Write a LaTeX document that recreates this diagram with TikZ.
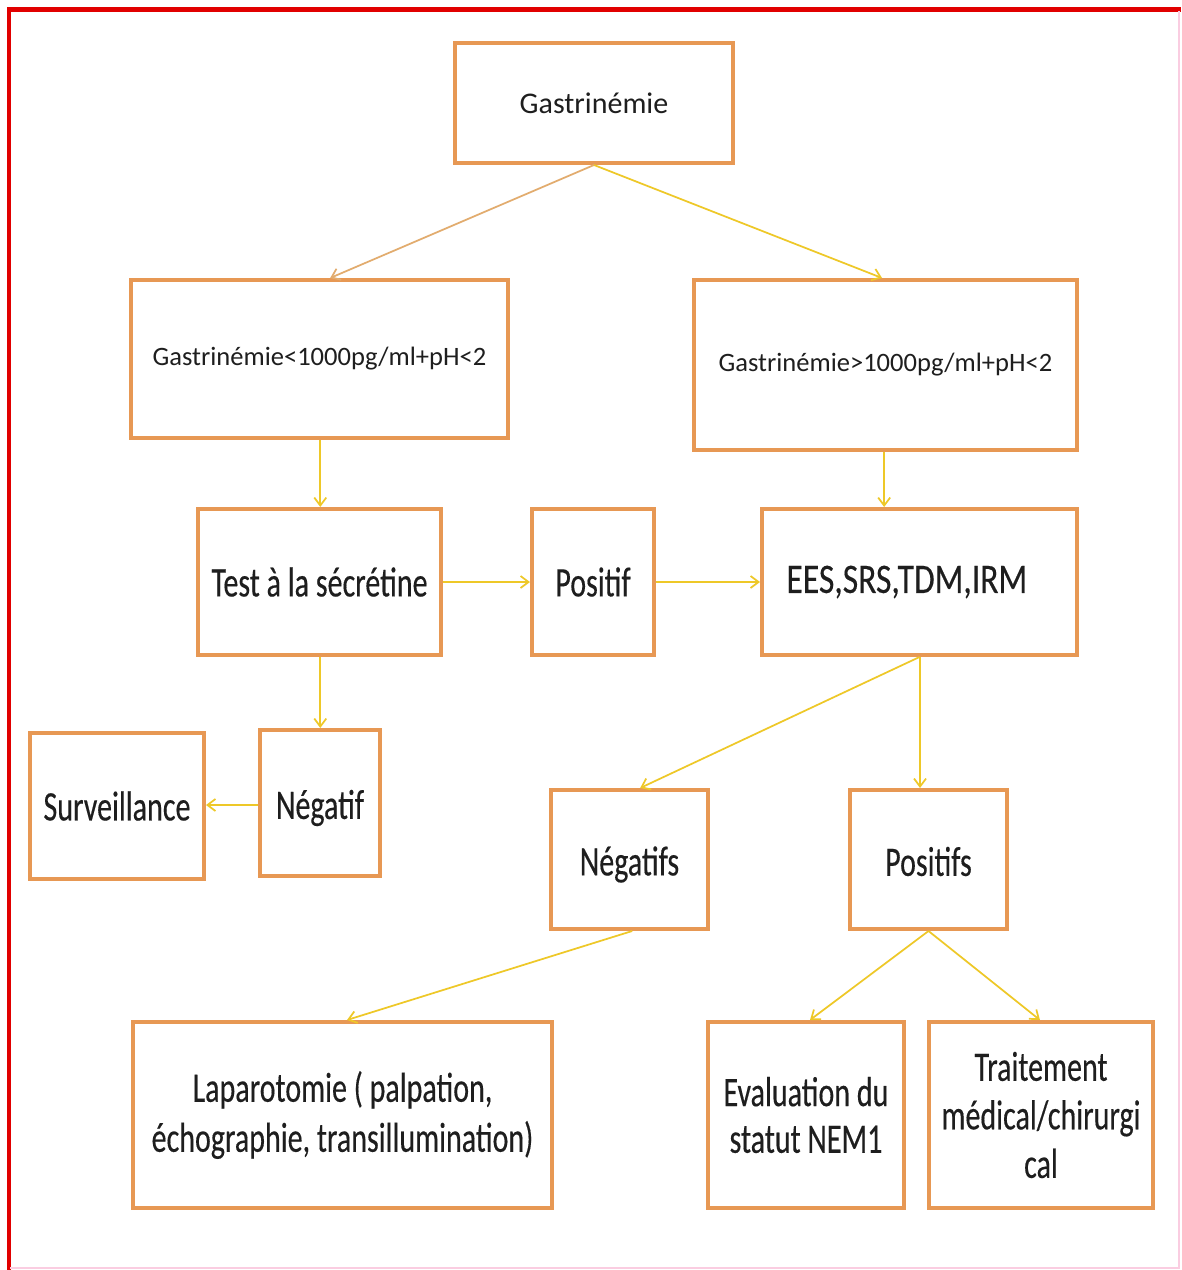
\documentclass[tikz,border=0pt]{standalone}
\usepackage{fontspec}
\setmainfont{Carlito}
\newfontfamily\tallfont[FakeStretch=0.715,FakeBold=0.3]{Carlito}
\newfontfamily\wideTallfont[FakeStretch=0.80,FakeBold=0.3]{Carlito}
\usetikzlibrary{arrows.meta,calc}
\definecolor{boxline}{RGB}{231,152,84}
\definecolor{arr}{RGB}{238,200,40}
\definecolor{arrtan}{RGB}{226,172,110}
\definecolor{txt}{RGB}{30,30,30}
\definecolor{framered}{RGB}{225,0,0}
\definecolor{framepink}{RGB}{250,205,225}
\newcommand{\lowertext}[2]{\raisebox{0pt}[\dimexpr\height+#1\relax][\depth]{#2}}
\tikzset{
  box/.style 2 args={draw=boxline, line width=3pt, fill=white,
    minimum width=#1*0.75pt, minimum height=#2*0.75pt,
    inner sep=0pt, align=center, text=txt},
  smalltext/.style={font=\fontsize{19.9}{23}\selectfont},
  bigtext/.style={font=\fontsize{22.5}{26}\selectfont},
  talltext/.style={font=\tallfont\fontsize{31.5}{#1}\selectfont},
  talltext/.default=29,
  link/.style={draw=arr, line width=1.3pt, -{Straight Barb[length=6pt,width=9pt]}},
}
\begin{document}
\begin{tikzpicture}[x=0.75pt,y=-0.75pt]
\useasboundingbox (0,0) rectangle (1181,1270);
\fill[white] (0,0) rectangle (1181,1270);
% frame
\draw[framered, line width=3.5pt] (9,1270) -- (9,9.5) -- (1181,9.5);
\draw[framepink, line width=0.8pt] (1179,11) -- (1179,1268) -- (10,1268);

% nodes
\node[box={278}{120}, bigtext] (G) at (594,103) {Gastrinémie};
\node[box={377}{158}, smalltext] (L) at (319.5,359) {Gastrinémie<1000pg/ml+pH<2};
\node[box={383}{170}, smalltext] (R) at (885.5,365) {Gastrinémie>1000pg/ml+pH<2};
\node[box={243}{146}, talltext] (T) at (319.5,582) {Test à la sécrétine};
\node[box={122}{146}, talltext] (P) at (593,582) {Positif};
\node[box={315}{146}, talltext, font=\wideTallfont\fontsize{31.5}{29}\selectfont] (E) at (919.5,582) {EES,SRS,TDM,IRM\hspace{19pt}};
\node[box={174}{146}, talltext] (S) at (117,806) {Surveillance};
\node[box={120}{146}, talltext] (N) at (320,803) {\lowertext{7.5pt}{Négatif}};
\node[box={157}{139}, talltext] (NS) at (629.5,859.5) {\lowertext{7.5pt}{Négatifs}};
\node[box={157}{139}, talltext] (PS) at (928.5,859.5) {\lowertext{3pt}{Positifs}};
\node[box={419}{186}, talltext=37.5] (LAP) at (342.5,1115) {Laparotomie ( palpation,\\échographie, transillumination)};
\node[box={196}{186}, talltext=35] (EV) at (806,1115) {Evaluation du\\statut NEM1};
\node[box={224}{186}, talltext=36.4] (TR) at (1041,1115) {Traitement\\médical/chirurgi\\cal};

% connectors
\draw[link, draw=arrtan] (G.south) -- ([xshift=8pt]L.north);
\draw[link] (G.south) -- ([xshift=-2.6pt]R.north);
\draw[link] ([xshift=0.6pt]L.south) -- ([xshift=0.6pt]T.north);
\draw[link] (T.east) -- (P.west);
\draw[link] (P.east) -- (E.west);
\draw[link] ([xshift=-1pt]R.south) -- ([xshift=-1pt]R.south |- E.north);
\draw[link] ([xshift=0.6pt]T.south) -- ([xshift=0.6pt]T.south |- N.north);
\draw[link] ([yshift=-1.5pt]N.west) -- ([yshift=-1.5pt]N.west -| S.east);
\draw[link] (E.south) -- ([xshift=8pt]NS.north);
\draw[link] ([xshift=0.4pt]E.south) -- ([xshift=0.4pt]E.south |- PS.north);
\draw[link] ([xshift=2pt]NS.south) -- ([xshift=3.4pt]LAP.north);
\draw[link] (PS.south) -- ([xshift=3pt]EV.north);
\draw[link] (PS.south) -- ([xshift=-0.8pt]TR.north);
\end{tikzpicture}
\end{document}
